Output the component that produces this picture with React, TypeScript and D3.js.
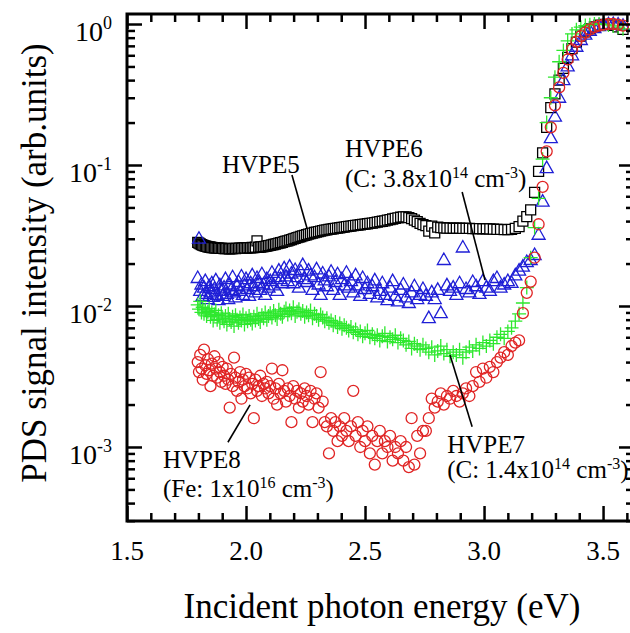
import React, { useEffect, useRef } from "react";
import * as d3 from "d3";

const width = 630;
const height = 633;
const margin = { left: 127, top: 14, right: 634, bottom: 521 };
const font = "'Liberation Serif', 'Times New Roman', serif";

// scan grid: 690 nm down to 346 nm in 2 nm steps, shown in eV
const wavelengths = d3.range(690, 345, -2);
const energies = wavelengths.map(l => 1240 / l);

// HVPE5, black squares
const hvpe5 = [
  0.0283, 0.0279, 0.0276, 0.0272, 0.0270, 0.0268, 0.0266, 0.0265, 0.0263, 0.0262,
  0.0261, 0.0260, 0.0259, 0.0258, 0.0258, 0.0257, 0.0257, 0.0256, 0.0256, 0.0256,
  0.0255, 0.0255, 0.0256, 0.0255, 0.0254, 0.0255, 0.0255, 0.0256, 0.0255, 0.0256,
  0.0256, 0.0257, 0.0256, 0.0257, 0.0258, 0.0257, 0.0258, 0.0259, 0.0258, 0.0260,
  0.0259, 0.0261, 0.0290, 0.0261, 0.0262, 0.0263, 0.0264, 0.0265, 0.0266, 0.0268,
  0.0269, 0.0271, 0.0273, 0.0275, 0.0277, 0.0279, 0.0281, 0.0283, 0.0286, 0.0288,
  0.0290, 0.0293, 0.0296, 0.0299, 0.0302, 0.0305, 0.0308, 0.0311, 0.0314, 0.0317,
  0.0320, 0.0323, 0.0326, 0.0329, 0.0332, 0.0334, 0.0337, 0.0340, 0.0342, 0.0345,
  0.0347, 0.0349, 0.0351, 0.0353, 0.0355, 0.0357, 0.0359, 0.0361, 0.0363, 0.0365,
  0.0367, 0.0369, 0.0371, 0.0373, 0.0375, 0.0377, 0.0379, 0.0381, 0.0383, 0.0385,
  0.0387, 0.0390, 0.0393, 0.0396, 0.0399, 0.0402, 0.0406, 0.0410, 0.0414, 0.0418,
  0.0422, 0.0426, 0.0429, 0.0428, 0.0424, 0.0417, 0.0407, 0.0396, 0.0386, 0.0378,
  0.0372, 0.0340, 0.0368, 0.0330, 0.0362, 0.0360, 0.0358, 0.0357, 0.0357, 0.0356,
  0.0356, 0.0356, 0.0355, 0.0355, 0.0355, 0.0354, 0.0354, 0.0354, 0.0353, 0.0353,
  0.0352, 0.0351, 0.0350, 0.0349, 0.0348, 0.0348, 0.0350, 0.0355, 0.0365, 0.0400,
  0.0430, 0.0480, 0.0640, 0.0900, 0.122, 0.185, 0.255, 0.320, 0.400, 0.485,
  0.580, 0.670, 0.745, 0.820, 0.880, 0.925, 0.955, 0.980, 0.995, 0.990,
  0.980, 0.955, 0.915
];

// HVPE6, blue triangles
const hvpe6 = [
  0.0158, 0.0300, 0.0128, 0.0142, 0.0118, 0.0135, 0.0150, 0.0122, 0.0112, 0.0138,
  0.0125, 0.0145, 0.0116, 0.0132, 0.0152, 0.0120, 0.0110, 0.0140, 0.0128, 0.0118,
  0.0135, 0.0155, 0.0122, 0.0112, 0.0142, 0.0130, 0.0160, 0.0125, 0.0115, 0.0138,
  0.0148, 0.0128, 0.0162, 0.0120, 0.0140, 0.0155, 0.0132, 0.0118, 0.0145, 0.0165,
  0.0138, 0.0125, 0.0158, 0.0146, 0.0130, 0.0168, 0.0142, 0.0120, 0.0155, 0.0135,
  0.0150, 0.0172, 0.0140, 0.0160, 0.0128, 0.0178, 0.0155, 0.0145, 0.0185, 0.0162,
  0.0150, 0.0190, 0.0170, 0.0145, 0.0180, 0.0160, 0.0135, 0.0175, 0.0195, 0.0155,
  0.0148, 0.0178, 0.0165, 0.0130, 0.0160, 0.0182, 0.0142, 0.0120, 0.0170, 0.0152,
  0.0138, 0.0162, 0.0175, 0.0130, 0.0148, 0.0168, 0.0120, 0.0155, 0.0140, 0.0172,
  0.0135, 0.0150, 0.0125, 0.0165, 0.0140, 0.0118, 0.0158, 0.0132, 0.0145, 0.0122,
  0.0138, 0.0152, 0.0115, 0.0128, 0.0145, 0.0120, 0.0110, 0.0135, 0.0150, 0.0118,
  0.0108, 0.0130, 0.0142, 0.0115, 0.0105, 0.0125, 0.0138, 0.0112, 0.0120, 0.0132,
  0.0118, 0.0082, 0.0125, 0.0112, 0.0130, 0.0089, 0.0212, 0.0140, 0.0128, 0.0135,
  0.0120, 0.0145, 0.0260, 0.0132, 0.0125, 0.0148, 0.0138, 0.0122, 0.0150, 0.0135,
  0.0128, 0.0150, 0.0158, 0.0135, 0.0142, 0.0150, 0.0146, 0.0165, 0.0178, 0.0190,
  0.0205, 0.0212, 0.0230, 0.0320, 0.0550, 0.0950, 0.155, 0.220, 0.300, 0.400,
  0.500, 0.600, 0.690, 0.770, 0.840, 0.895, 0.935, 0.965, 0.985, 0.995,
  1.000, 0.990, 0.970
];

// HVPE7, green crosses
const hvpe7 = [
  0.0102, 0.0095, 0.0108, 0.0090, 0.0098, 0.0088, 0.0094, 0.0085, 0.0091, 0.0096,
  0.0084, 0.0090, 0.0079, 0.0087, 0.0093, 0.0080, 0.0086, 0.0076, 0.0089, 0.0082,
  0.0078, 0.0085, 0.0074, 0.0088, 0.0081, 0.0077, 0.0084, 0.0072, 0.0086, 0.0080,
  0.0076, 0.0083, 0.0079, 0.0087, 0.0074, 0.0082, 0.0078, 0.0085, 0.0080, 0.0075,
  0.0084, 0.0079, 0.0088, 0.0081, 0.0077, 0.0086, 0.0082, 0.0090, 0.0080, 0.0085,
  0.0089, 0.0083, 0.0092, 0.0086, 0.0081, 0.0094, 0.0088, 0.0084, 0.0091, 0.0096,
  0.0087, 0.0093, 0.0089, 0.0098, 0.0085, 0.0091, 0.0095, 0.0088, 0.0092, 0.0084,
  0.0090, 0.0086, 0.0093, 0.0082, 0.0088, 0.0085, 0.0080, 0.0087, 0.0083, 0.0078,
  0.0082, 0.0076, 0.0079, 0.0073, 0.0077, 0.0071, 0.0075, 0.0069, 0.0073, 0.0070,
  0.0067, 0.0071, 0.0065, 0.0068, 0.0063, 0.0066, 0.0061, 0.0064, 0.0067, 0.0060,
  0.0063, 0.0059, 0.0062, 0.0057, 0.0061, 0.0064, 0.0056, 0.0060, 0.0058, 0.0062,
  0.0055, 0.0059, 0.0057, 0.0053, 0.0056, 0.0050, 0.0054, 0.0052, 0.0049, 0.0053,
  0.0050, 0.0047, 0.0051, 0.0045, 0.0048, 0.0052, 0.0046, 0.0049, 0.0044, 0.0047,
  0.0045, 0.0049, 0.0043, 0.0047, 0.0051, 0.0048, 0.0053, 0.0050, 0.0055, 0.0052,
  0.0057, 0.0054, 0.0060, 0.0063, 0.0059, 0.0066, 0.0070, 0.0078, 0.0088, 0.0105,
  0.0135, 0.0220, 0.0360, 0.0580, 0.110, 0.200, 0.300, 0.420, 0.540, 0.650,
  0.760, 0.850, 0.910, 0.950, 0.975, 0.990, 1.000, 1.000, 0.995, 0.985,
  0.970, 0.950, 0.925
];

// HVPE8, red circles
const hvpe8 = [
  0.0040, 0.0034, 0.0045, 0.0036, 0.0030, 0.0049, 0.0038, 0.0033, 0.0042, 0.0035,
  0.0027, 0.0039, 0.0032, 0.0044, 0.0036, 0.0031, 0.0040, 0.0034, 0.0029, 0.0037,
  0.0032, 0.0028, 0.0036, 0.0030, 0.0019, 0.0033, 0.0027, 0.0043, 0.0031, 0.0025,
  0.0029, 0.0034, 0.0022, 0.0030, 0.0027, 0.0033, 0.0026, 0.0031, 0.0024, 0.0028,
  0.0016, 0.0030, 0.0025, 0.0027, 0.0032, 0.0023, 0.0028, 0.0026, 0.0029, 0.0024,
  0.0027, 0.0036, 0.0022, 0.0026, 0.0020, 0.0028, 0.0024, 0.0035, 0.0025, 0.0021,
  0.0026, 0.0023, 0.0015, 0.0027, 0.0022, 0.0025, 0.0019, 0.0024, 0.0021, 0.0026,
  0.0023, 0.0020, 0.0025, 0.0015, 0.0022, 0.0024, 0.0019, 0.0034, 0.0021, 0.0015,
  0.0014, 0.0009, 0.0016, 0.0013, 0.0015, 0.0011, 0.0014, 0.0012, 0.0016, 0.0013,
  0.0011, 0.0014, 0.0025, 0.0012, 0.0015, 0.0010, 0.0013, 0.0011, 0.0014, 0.0009,
  0.0012, 0.00075, 0.0011, 0.0013, 0.0009, 0.0011, 0.0010, 0.0012, 0.0008, 0.0010,
  0.0009, 0.0011, 0.0008, 0.0010, 0.00072, 0.0016, 0.00075, 0.0012, 0.0009, 0.0013,
  0.0013, 0.0016, 0.0022, 0.0019, 0.0021, 0.0024, 0.0020, 0.0023, 0.0022, 0.0025,
  0.0023, 0.0021, 0.0024, 0.0026, 0.0023, 0.0027, 0.0034, 0.0029, 0.0036, 0.0031,
  0.0037, 0.0034, 0.0040, 0.0043, 0.0047, 0.0045, 0.0052, 0.0055, 0.0057, 0.0089,
  0.0124, 0.0149, 0.0220, 0.0380, 0.0700, 0.125, 0.185, 0.265, 0.355, 0.450,
  0.560, 0.660, 0.750, 0.820, 0.870, 0.915, 0.950, 0.975, 0.990, 1.000,
  1.000, 0.990, 0.975
];

const xMajor = [1.5, 2.0, 2.5, 3.0, 3.5];
const xLabels = ["1.5", "2.0", "2.5", "3.0", "3.5"];
const yMajor = [1e-3, 1e-2, 1e-1, 1];
const yExponents = ["-3", "-2", "-1", "0"];

const series = [
  { name: "HVPE5", values: hvpe5, shape: "square", color: "#000000" },
  { name: "HVPE6", values: hvpe6, shape: "triangle", color: "#1f1fd6" },
  { name: "HVPE7", values: hvpe7, shape: "plus", color: "#2ee82e" },
  { name: "HVPE8", values: hvpe8, shape: "circle", color: "#e02424" }
];

// label anchors in data units: [eV, value] for text, leader from -> to
const notes = [
  { lines: [[["HVPE5", 0]]], at: [1.899, 0.0877], gap: 30, from: [2.193, 0.0849], to: [2.256, 0.0357] },
  {
    lines: [[["HVPE6", 0]], [["(C: 3.8x10", 0], ["14", 1], [" cm", 0], ["-3", 1], [")", 0]]],
    at: [2.416, 0.114], gap: 30, from: [2.908, 0.0644], to: [3.004, 0.0153]
  },
  {
    lines: [[["HVPE7", 0]], [["(C: 1.4x10", 0], ["14", 1], [" cm", 0], ["-3", 1], [")", 0]]],
    at: [2.845, 0.000906], gap: 25, from: [2.857, 0.00449], to: [2.95, 0.00139]
  },
  {
    lines: [[["HVPE8", 0]], [["(Fe: 1x10", 0], ["16", 1], [" cm", 0], ["-3", 1], [")", 0]]],
    at: [1.651, 0.00071], gap: 29, from: [1.924, 0.00108], to: [2.017, 0.00199]
  }
];

const marker = {
  square: "M-5,-5h10v10h-10z",
  triangle: "M0,-7L6.5,4.5L-6.5,4.5Z",
  plus: "M-7,0H7M0,-7V7",
  circle: d3.symbol(d3.symbolCircle, Math.PI * 5.5 * 5.5)()
};

export default function App() {
  const ref = useRef(null);

  useEffect(() => {
    document.body.style.margin = "0";
    const svg = d3.select(ref.current);
    svg.selectAll("*").remove();

    const x = d3.scaleLinear().domain([1.5, 3.63]).range([margin.left, margin.right]);
    const y = d3
      .scaleLog()
      .domain([Math.pow(10, -3.525), Math.pow(10, 0.071)])
      .range([margin.bottom, margin.top]);

    // data
    series.forEach(s => {
      svg
        .append("g")
        .selectAll("path")
        .data(s.values.map((v, i) => [energies[i], v]))
        .enter()
        .append("path")
        .attr("transform", d => `translate(${x(d[0])},${y(d[1])})`)
        .attr("d", marker[s.shape])
        .attr("fill", s.shape === "square" ? "#fff" : "none")
        .attr("stroke", s.color)
        .attr("stroke-width", 1.3);
    });

    // axes, ticks point inward
    const xMinor = d3.range(15, 37).map(i => i / 10).filter(v => !xMajor.some(m => Math.abs(m - v) < 1e-9));
    const yMinor = y.ticks().filter(v => !yMajor.some(m => Math.abs(m - v) / m < 1e-6));

    const axes = [
      [d3.axisBottom(x), `translate(0,${margin.bottom})`, xMajor, xMinor],
      [d3.axisTop(x), `translate(0,${margin.top})`, xMajor, xMinor],
      [d3.axisLeft(y), `translate(${margin.left},0)`, yMajor, yMinor],
      [d3.axisRight(y), `translate(${margin.right},0)`, yMajor, yMinor]
    ];
    axes.forEach(([axis, tr, major, minor]) => {
      [[major, 15], [minor, 8]].forEach(([vals, len]) => {
        const g = svg
          .append("g")
          .attr("transform", tr)
          .call(axis.tickValues(vals).tickSize(-len).tickSizeOuter(0).tickFormat(() => ""));
        g.select(".domain").remove();
        g.selectAll("line").attr("stroke", "#000").attr("stroke-width", 2.5);
      });
    });

    svg
      .append("rect")
      .attr("x", margin.left)
      .attr("y", margin.top)
      .attr("width", margin.right - margin.left)
      .attr("height", margin.bottom - margin.top)
      .attr("fill", "none")
      .attr("stroke", "#000")
      .attr("stroke-width", 3);

    // tick labels
    svg
      .append("g")
      .selectAll("text")
      .data(xMajor)
      .enter()
      .append("text")
      .attr("x", d => x(d))
      .attr("y", margin.bottom + 39)
      .attr("text-anchor", "middle")
      .attr("font-family", font)
      .attr("font-size", 27)
      .text((d, i) => xLabels[i]);

    const yl = svg
      .append("g")
      .selectAll("text")
      .data(yMajor)
      .enter()
      .append("text")
      .attr("x", 112)
      .attr("y", d => y(d) + 17)
      .attr("text-anchor", "end")
      .attr("font-family", font)
      .attr("font-size", 28);
    yl.append("tspan").text("10");
    yl.append("tspan")
      .attr("dy", -12)
      .attr("font-size", 18)
      .text((d, i) => yExponents[i]);

    // axis titles
    svg
      .append("text")
      .attr("x", 382)
      .attr("y", 618)
      .attr("text-anchor", "middle")
      .attr("font-family", font)
      .attr("font-size", 35)
      .text("Incident photon energy (eV)");
    svg
      .append("text")
      .attr("transform", "translate(46,263) rotate(-90)")
      .attr("text-anchor", "middle")
      .attr("font-family", font)
      .attr("font-size", 35)
      .text("PDS signal intensity (arb.units)");

    // annotations
    notes.forEach(n => {
      svg
        .append("line")
        .attr("x1", x(n.from[0]))
        .attr("y1", y(n.from[1]))
        .attr("x2", x(n.to[0]))
        .attr("y2", y(n.to[1]))
        .attr("stroke", "#000")
        .attr("stroke-width", 1.6);
      n.lines.forEach((parts, li) => {
        const t = svg
          .append("text")
          .attr("x", x(n.at[0]))
          .attr("y", y(n.at[1]) + li * n.gap)
          .attr("font-family", font)
          .attr("font-size", 25);
        let up = false;
        parts.forEach(([s, sup]) => {
          const sp = t.append("tspan").text(s);
          if (sup && !up) sp.attr("dy", -9).attr("font-size", 16);
          else if (sup) sp.attr("font-size", 16);
          else if (up) sp.attr("dy", 9);
          up = !!sup;
        });
      });
    });
  }, []);

  return <svg ref={ref} width={width} height={height} style={{ display: "block" }} />;
}
